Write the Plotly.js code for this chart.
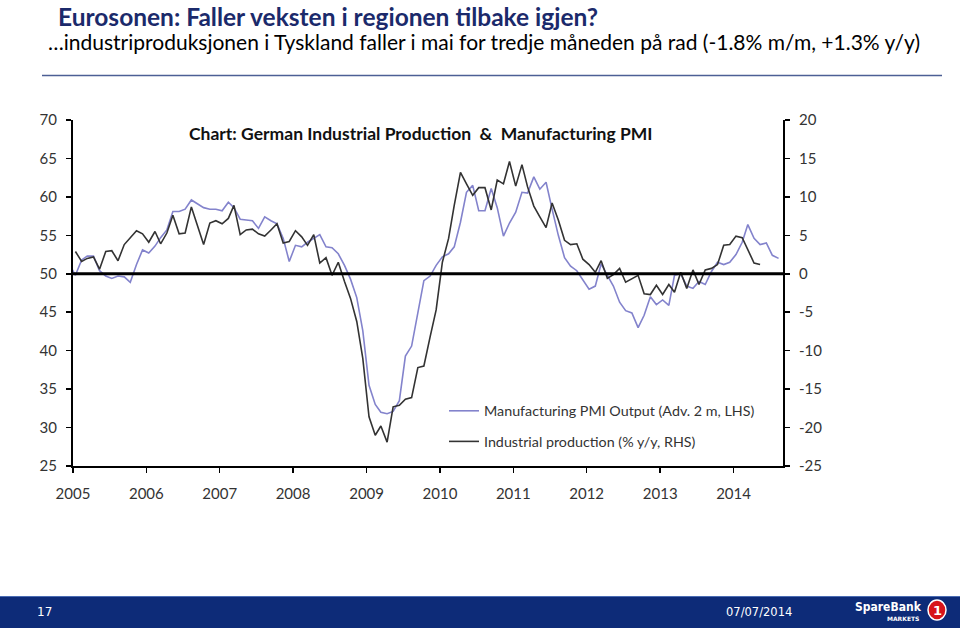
<!DOCTYPE html>
<html>
<head>
<meta charset="utf-8">
<script src="https://cdn.plot.ly/plotly-3.0.1.min.js"></script>
<style>
  html, body { margin: 0; padding: 0; background: #ffffff; }
  #chart { width: 960px; height: 631px; }
</style>
</head>
<body>
<div id="chart"></div>
<script>
// ---------- DATA ----------
// Manufacturing PMI Output (advanced 2 months, LHS), monthly from Dec 2004 to Aug 2014
const pmiStart = [2004, 12];
const pmiOutput = [
  51.3,
  49.8, 51.8, 52.3, 52.3, 50.4, 49.7, 49.4, 49.7, 49.6, 48.9, 51.2, 53.1,
  52.7, 53.6, 54.7, 55.7, 58.1, 58.1, 58.4, 59.6, 59.1, 58.6, 58.4, 58.4,
  58.2, 59.3, 58.6, 57.1, 57.0, 56.9, 55.9, 57.4, 56.9, 56.5, 54.6, 51.6,
  53.7, 53.5, 54.1, 54.6, 55.1, 53.5, 53.4, 52.6, 51.1, 49.3, 46.9, 42.6,
  35.5, 33.0, 32.0, 31.8, 32.1, 33.5, 39.3, 40.6, 45.0, 49.1, 49.7, 51.1,
  52.2, 52.6, 53.5, 56.7, 60.6, 61.5, 58.2, 58.2, 61.1, 58.6, 54.9, 56.6,
  58.0, 60.6, 60.5, 62.6, 61.0, 61.9, 58.4, 55.0, 52.1, 51.0, 50.4, 49.2,
  48.0, 48.4, 51.3, 49.8, 48.4, 46.3, 45.2, 44.9, 43.0, 44.6, 47.0, 46.0,
  46.6, 45.9, 49.8, 50.0, 48.4, 48.1, 49.0, 48.6, 50.3, 51.5, 51.2, 51.5,
  52.5, 54.1, 56.4, 54.6, 53.8, 54.0, 52.4, 52.0
];
// German industrial production, % y/y (RHS), monthly from Jan 2005 to May 2014
const ipStart = [2005, 1];
const industrialProd = [
  2.9, 1.6, 2.0, 2.2, 0.6, 2.9, 3.0, 1.7, 3.8, 4.7, 5.6, 5.2,
  4.1, 5.5, 3.9, 5.3, 7.6, 5.2, 5.3, 8.7, 6.2, 3.8, 6.6, 6.9,
  6.5, 7.2, 8.9, 5.1, 5.7, 5.8, 5.2, 4.9, 5.7, 6.5, 4.0, 4.2,
  5.6, 4.8, 3.7, 5.1, 1.4, 2.1, -0.2, 1.5, -1.0, -3.2, -6.2, -11.0,
  -18.6, -21.0, -19.8, -21.9, -17.3, -17.1, -16.3, -16.1, -12.2, -12.0, -8.2, -4.7,
  1.5, 4.6, 8.9, 13.2, 11.7, 10.2, 11.2, 11.2, 8.3, 12.2, 11.7, 14.6,
  11.4, 14.2, 11.3, 8.8, 7.4, 6.0, 9.2, 7.0, 4.35, 3.8, 3.9, 1.9,
  1.2, 0.2, 1.7, -0.6, -0.1, 0.7, -1.1, -0.6, -0.2, -2.6, -2.7, -1.5,
  -2.7, -1.4, -2.4, 0.2, -1.9, 0.5, -1.4, 0.5, 0.7, 1.2, 3.7, 3.8,
  4.9, 4.7, 3.2, 1.4, 1.2
];
const yearTicks = [2005, 2006, 2007, 2008, 2009, 2010, 2011, 2012, 2013, 2014];
const leftTicks = [25, 30, 35, 40, 45, 50, 55, 60, 65, 70];
const rightTicks = [-25, -20, -15, -10, -5, 0, 5, 10, 15, 20];
const rightTickText = ["-25", "-20", "-15", "-10", "-5", "0", "5", "10", "15", "20"];
const seriesNames = ["Manufacturing PMI Output (Adv. 2 m, LHS)", "Industrial production (% y/y, RHS)"];

// ---------- helpers ----------
function monthDates(start, n) {
  const out = [];
  for (let i = 0; i < n; i++) {
    const t = start[0] * 12 + (start[1] - 1) + i;
    const y = Math.floor(t / 12), m = (t % 12) + 1;
    out.push(y + "-" + String(m).padStart(2, "0") + "-13");
  }
  return out;
}
const W = 960, H = 631, L = 73, R = 783, T = 120, B = 466;
const px = x => (x - L) / (R - L);
const py = y => (B - y) / (B - T);

const FONT = "Lato, 'Open Sans', sans-serif";

const traces = [
  {
    x: monthDates(pmiStart, pmiOutput.length), y: pmiOutput, yaxis: "y",
    type: "scatter", mode: "lines", name: seriesNames[0], legendgroup: "a",
    line: { color: "#8383cc", width: 1.6 }
  },
  {
    x: monthDates(ipStart, industrialProd.length), y: industrialProd, yaxis: "y2",
    type: "scatter", mode: "lines", name: seriesNames[1], legendgroup: "b",
    line: { color: "#333333", width: 1.6 }
  }
];

const axisCommon = {
  showgrid: false, zeroline: false, showline: true, linecolor: "#000", linewidth: 2,
  ticks: "outside", ticklen: 5, tickwidth: 1.5, tickcolor: "#000",
  tickfont: { family: FONT, size: 15, color: "#333" }
};

const layout = {
  width: W, height: H,
  margin: { l: L, r: W - R, t: T, b: H - B, pad: 0 },
  paper_bgcolor: "#ffffff", plot_bgcolor: "#ffffff",
  showlegend: true,
  legend: {
    x: px(444), y: py(395), xanchor: "left", yanchor: "top",
    bgcolor: "rgba(0,0,0,0)", tracegroupgap: 9,
    font: { family: FONT, size: 14.3, color: "#333" }
  },
  xaxis: Object.assign({}, axisCommon, {
    type: "date",
    range: ["2005-01-01", "2014-09-04"],
    tickvals: yearTicks.map(y => y + "-01-01"),
    ticktext: yearTicks.map(String),
    ticklabelstandoff: 8
  }),
  yaxis: Object.assign({}, axisCommon, {
    range: [25, 70], tickvals: leftTicks, ticktext: leftTicks.map(String),
    ticklabelstandoff: 6
  }),
  yaxis2: Object.assign({}, axisCommon, {
    range: [-25, 20], overlaying: "y", side: "right",
    tickvals: rightTicks, ticktext: rightTickText,
    ticklabelstandoff: 6
  }),
  shapes: [
    { type: "line", xref: "paper", yref: "y", x0: 0, x1: 1, y0: 50, y1: 50,
      line: { color: "#000", width: 3 } },
    { type: "line", xref: "paper", yref: "paper", x0: px(42), x1: px(942), y0: py(75.5), y1: py(75.5),
      line: { color: "#4d5f95", width: 1.5 } },
    { type: "rect", xref: "paper", yref: "paper", x0: px(0), x1: px(960), y0: py(628), y1: py(596),
      fillcolor: "#0d2b78", line: { width: 0 } },
    { type: "line", xref: "paper", yref: "paper", x0: px(0), x1: px(960), y0: py(596.5), y1: py(596.5),
      line: { color: "#4a6cb3", width: 1 } },
    { type: "circle", xref: "paper", yref: "paper", x0: px(928), x1: px(946), y0: py(620), y1: py(600),
      fillcolor: "#d7141a", line: { color: "#ffffff", width: 1.5 } }
  ],
  annotations: [
    { text: "Eurosonen: Faller veksten i regionen tilbake igjen?", xref: "paper", yref: "paper",
      x: px(56), y: py(0), xanchor: "left", yanchor: "top", showarrow: false,
      font: { family: FONT, size: 24.5, color: "#1b2a6b", weight: "bold" } },
    { text: "…industriproduksjonen i Tyskland faller i mai for tredje måneden på rad (-1.8% m/m, +1.3% y/y)",
      xref: "paper", yref: "paper", x: px(46), y: py(41), xanchor: "left", yanchor: "middle", showarrow: false,
      font: { family: FONT, size: 21, color: "#000" } },
    { text: "<b>Chart: German Industrial Production  &  Manufacturing PMI</b>", xref: "paper", yref: "paper",
      x: px(420.5), y: py(133), xanchor: "center", yanchor: "middle", showarrow: false,
      font: { family: FONT, size: 17.5, color: "#111" } },
    { text: "17", xref: "paper", yref: "paper", x: px(35), y: py(612), xanchor: "left", yanchor: "middle",
      showarrow: false, font: { family: "'DejaVu Sans', sans-serif", size: 12, color: "#ffffff" } },
    { text: "07/07/2014", xref: "paper", yref: "paper", x: px(724), y: py(612), xanchor: "left", yanchor: "middle",
      showarrow: false, font: { family: "'DejaVu Sans', sans-serif", size: 11.5, color: "#ffffff" } },
    { text: "<b>SpareBank</b>", xref: "paper", yref: "paper", x: px(853), y: py(607), xanchor: "left", yanchor: "middle",
      showarrow: false, font: { family: "'Liberation Sans Narrow', 'DejaVu Sans Condensed', Lato, sans-serif", size: 12, color: "#ffffff" } },
    { text: "<b>MARKETS</b>", xref: "paper", yref: "paper", x: px(921), y: py(618), xanchor: "right", yanchor: "middle",
      showarrow: false, font: { family: "'DejaVu Sans', sans-serif", size: 6, color: "#ffffff" } },
    { text: "<b>1</b>", xref: "paper", yref: "paper", x: px(937), y: py(610), xanchor: "center", yanchor: "middle",
      showarrow: false, font: { family: "'DejaVu Sans', sans-serif", size: 13, color: "#ffffff" } }
  ]
};

Plotly.newPlot("chart", traces, layout, { staticPlot: true, displayModeBar: false });
</script>
</body>
</html>
